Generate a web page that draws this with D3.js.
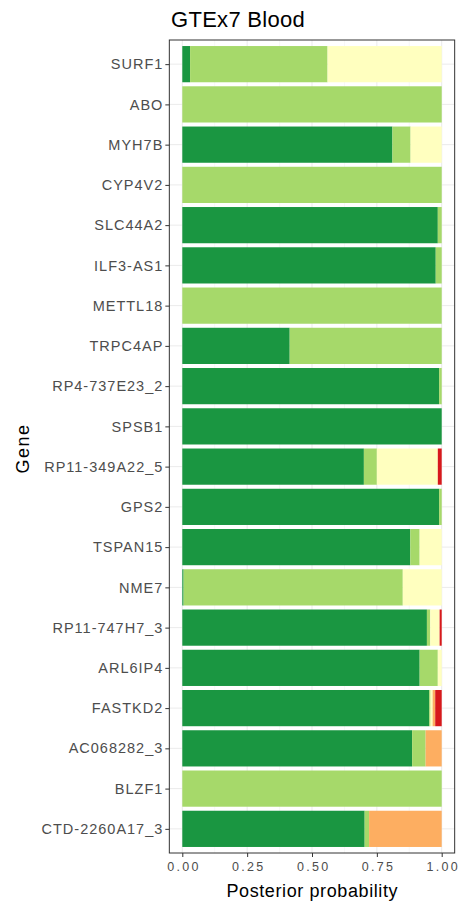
<!DOCTYPE html>
<html><head><meta charset="utf-8">
<script src="https://cdn.jsdelivr.net/npm/d3@7"></script>
<style>body{margin:0;background:#fff}svg{display:block}</style>
</head><body>
<script>
const genes = ["SURF1","ABO","MYH7B","CYP4V2","SLC44A2","ILF3-AS1","METTL18","TRPC4AP","RP4-737E23_2","SPSB1","RP11-349A22_5","GPS2","TSPAN15","NME7","RP11-747H7_3","ARL6IP4","FASTKD2","AC068282_3","BLZF1","CTD-2260A17_3"];
const seriesNames = ["H4","H3","H2","H1","H0"];
const colors = ["#1a9641","#a6d96a","#ffffbf","#fdae61","#d7191c"];
const dark   = [0.03,0,0.81,0,0.985,0.977,0,0.414,0.99,1,0.70,0.99,0.879,0.005,0.943,0.915,0.952,0.886,0,0.703];
const light  = [0.53,1,0.07,1,0.015,0.023,1,0.586,0.01,0,0.05,0.01,0.036,0.845,0.013,0.07,0.005,0.052,1,0.017];
const yellow = [0.44,0,0.12,0,0,0,0,0,0,0,0.235,0,0.085,0.15,0.036,0.015,0.008,0,0,0];
const orange = [0,0,0,0,0,0,0,0,0,0,0,0,0,0,0,0,0.01,0.062,0,0.28];
const red    = [0,0,0,0,0,0,0,0,0,0,0.015,0,0,0,0.008,0,0.025,0,0,0];
const xTicks = [0,0.25,0.5,0.75,1];

const W=462,H=905;
const svg=d3.select("body").append("svg").attr("width",W).attr("height",H);
const x=d3.scaleLinear().domain([0,1]).range([182.3,441.7]);
const pTop=40, pBot=853;
const pL=x(-0.05), pR=x(1.05);
const y=d3.scalePoint().domain(genes).range([pTop,pBot]).padding(0.6);
const bh=y.step()*0.9;

svg.append("rect").attr("x",pL).attr("y",pTop).attr("width",pR-pL).attr("height",pBot-pTop).attr("fill","#fff");
// grid
const minor=[0.125,0.375,0.625,0.875];
svg.append("g").selectAll("line").data(minor).join("line")
  .attr("x1",d=>x(d)).attr("x2",d=>x(d)).attr("y1",pTop).attr("y2",pBot)
  .attr("stroke","#f2f2f2").attr("stroke-width",0.6);
svg.append("g").selectAll("line").data(xTicks).join("line")
  .attr("x1",d=>x(d)).attr("x2",d=>x(d)).attr("y1",pTop).attr("y2",pBot)
  .attr("stroke","#ebebeb").attr("stroke-width",1);
svg.append("g").selectAll("line").data(genes).join("line")
  .attr("x1",pL).attr("x2",pR).attr("y1",d=>y(d)).attr("y2",d=>y(d))
  .attr("stroke","#ebebeb").attr("stroke-width",1);

const table=genes.map((g,i)=>({gene:g,H4:dark[i],H3:light[i],H2:yellow[i],H1:orange[i],H0:red[i]}));
const stack=d3.stack().keys(seriesNames)(table);
svg.append("g").selectAll("g").data(stack).join("g")
  .attr("fill",(d,i)=>colors[i])
  .selectAll("rect").data(d=>d).join("rect")
  .attr("x",d=>x(d[0])).attr("width",d=>Math.max(0,x(d[1])-x(d[0])))
  .attr("y",d=>y(d.data.gene)-bh/2).attr("height",bh);

svg.append("rect").attr("x",pL).attr("y",pTop).attr("width",pR-pL).attr("height",pBot-pTop)
  .attr("fill","none").attr("stroke","#333").attr("stroke-width",1);

// axes
const fnt="Liberation Sans, Arial, Helvetica, sans-serif";
const yAxis=svg.append("g").attr("transform",`translate(${pL},0)`)
  .call(d3.axisLeft(y).tickSize(4).tickPadding(3));
yAxis.select(".domain").remove();
yAxis.selectAll("line").attr("stroke","#333");
yAxis.selectAll("text").attr("fill","#4d4d4d").style("font-family",fnt).style("font-size","14.5px")
  .style("letter-spacing","1px").attr("dx","1px");

const xAxis=svg.append("g").attr("transform",`translate(0,${pBot})`)
  .call(d3.axisBottom(x).tickValues(xTicks).tickFormat(d3.format(".2f")).tickSize(4).tickPadding(3));
xAxis.select(".domain").remove();
xAxis.selectAll("line").attr("stroke","#333");
xAxis.selectAll("text").attr("fill","#4d4d4d").style("font-family",fnt).style("font-size","12.5px")
  .style("letter-spacing","2.3px").attr("dx","1.15px").attr("y",9).attr("dy","0.71em");

svg.append("text").attr("x",(pL+pR)/2+0.3).attr("y",897).attr("text-anchor","middle")
  .style("font-family",fnt).style("font-size","18px").style("letter-spacing","0.6px").attr("fill","#000").text("Posterior probability");
svg.append("text").attr("transform",`translate(29,${(pTop+pBot)/2+2}) rotate(-90)`).attr("text-anchor","middle")
  .style("font-family",fnt).style("font-size","18px").style("letter-spacing","1.5px").attr("fill","#000").text("Gene");
svg.append("text").attr("x",171).attr("y",27)
  .style("font-family",fnt).style("font-size","22px").style("letter-spacing","0.3px").attr("fill","#000").text("GTEx7 Blood");
</script>
</body></html>
